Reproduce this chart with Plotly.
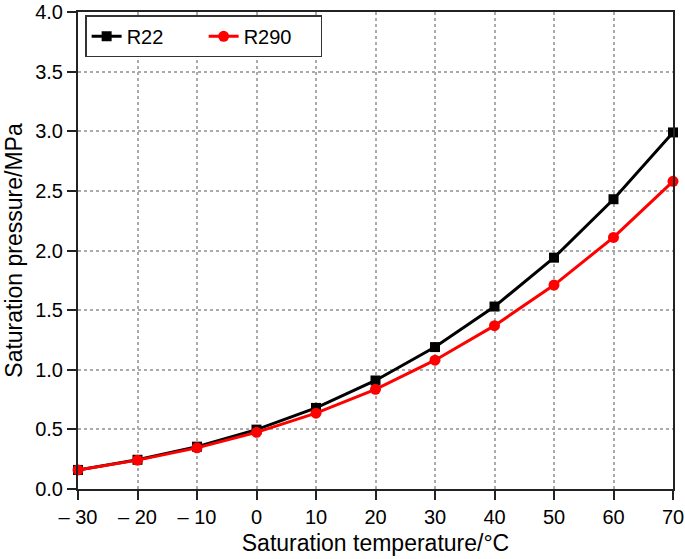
import plotly.graph_objects as go

temps = [-30, -20, -10, 0, 10, 20, 30, 40, 50, 60, 70]
r22 = [0.16, 0.245, 0.355, 0.498, 0.68, 0.91, 1.19, 1.53, 1.94, 2.43, 2.99]
r290 = [0.16, 0.242, 0.345, 0.475, 0.636, 0.836, 1.08, 1.37, 1.71, 2.11, 2.58]
x_tick_vals = [-30, -20, -10, 0, 10, 20, 30, 40, 50, 60, 70]
x_tick_text = ["\u2013 30", "\u2013 20", "\u2013 10", "0", "10", "20", "30", "40", "50", "60", "70"]

fig = go.Figure()
fig.add_trace(go.Scatter(x=temps, y=r22, name="R22", mode="lines+markers",
                         line=dict(color="black", width=3),
                         marker=dict(symbol="square", size=10, color="black"),
                         cliponaxis=False))
fig.add_trace(go.Scatter(x=temps, y=r290, name="R290", mode="lines+markers",
                         line=dict(color="#ff0000", width=3),
                         marker=dict(symbol="circle", size=11, color="#ff0000"),
                         cliponaxis=False))

font_family = "Liberation Sans, Arial, Helvetica, sans-serif"
fig.update_layout(
    width=685, height=559,
    margin=dict(l=78, r=12, t=12, b=70, autoexpand=False),
    paper_bgcolor="white", plot_bgcolor="white",
    font=dict(family=font_family, size=20, color="black"),
    legend=dict(orientation="h", x=0.012, y=0.993, xanchor="left", yanchor="top",
                bordercolor="#333", borderwidth=1.5, bgcolor="white",
                font=dict(size=20), tracegroupgap=0, entrywidth=72, entrywidthmode="pixels"),
    showlegend=True,
)
fig.update_xaxes(range=[-30, 70], tickvals=x_tick_vals, ticktext=x_tick_text,
                 showline=True, linecolor="#222", linewidth=2, mirror=True,
                 ticks="outside", ticklen=9, tickwidth=2, tickcolor="#222",
                 showgrid=True, gridcolor="#aaa", griddash="dot", gridwidth=1.5,
                 zeroline=False, automargin=False,
                 title=dict(text="Saturation temperature/\u00b0C", font=dict(size=23), standoff=8))
fig.update_yaxes(range=[0, 4.0], dtick=0.5, tickformat=".1f",
                 showline=True, linecolor="#222", linewidth=2, mirror=True,
                 ticks="outside", ticklen=9, tickwidth=2, tickcolor="#222",
                 showgrid=True, gridcolor="#aaa", griddash="dot", gridwidth=1.5,
                 zeroline=False, automargin=False,
                 title=dict(text="Saturation pressure/MPa", font=dict(size=23), standoff=6))

fig.write_html("out.html", config={"displayModeBar": False},
               post_script="document.body.style.margin='0';document.body.style.overflow='hidden';")
